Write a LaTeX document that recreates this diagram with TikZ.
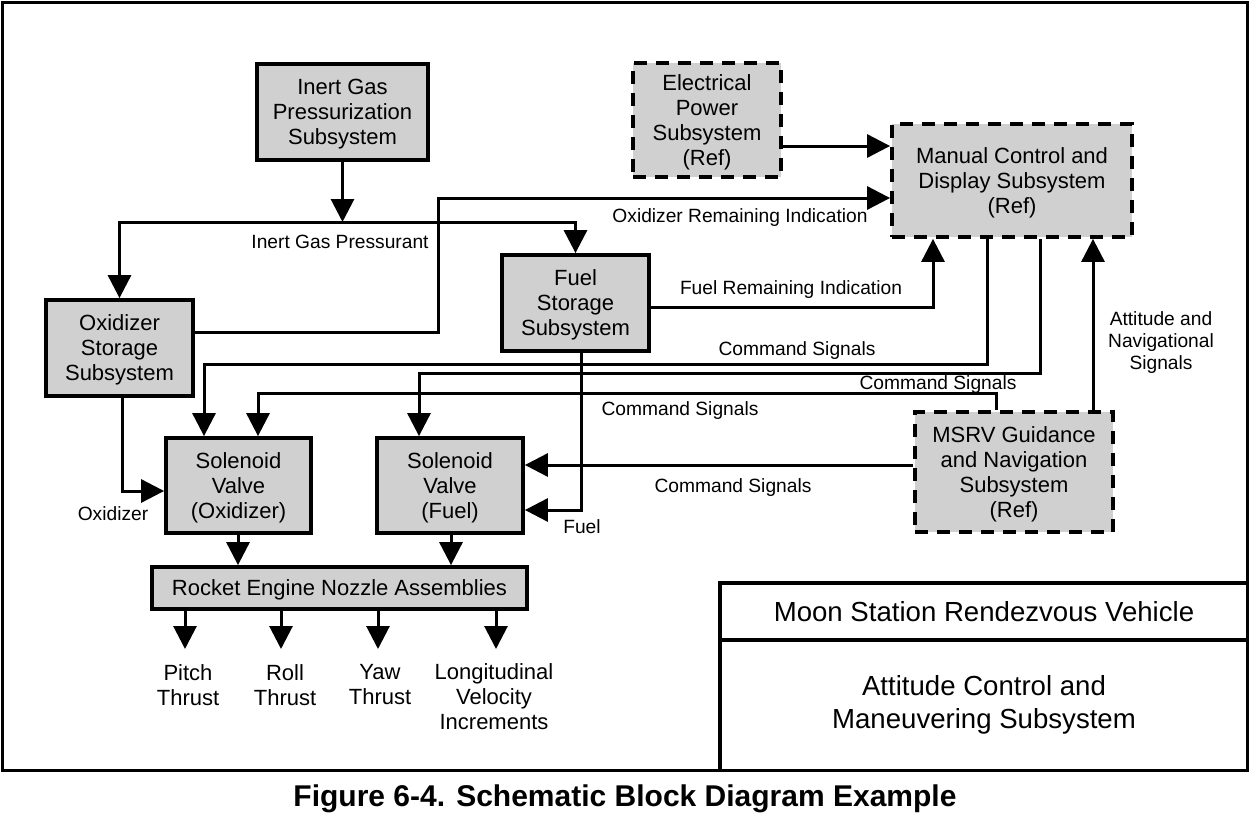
\documentclass[tikz,border=0pt]{standalone}
\usepackage{fontspec}
\setmainfont{Liberation Sans}
\usetikzlibrary{arrows.meta,calc}
\definecolor{boxgray}{RGB}{208,208,208}
\begin{document}
\begin{tikzpicture}[x=0.5pt,y=-0.5pt,
  blk/.style={draw, line width=1.9pt, fill=boxgray, align=center, inner sep=0pt, text depth=0pt, font=\fontsize{11}{12.5}\selectfont},
  refblk/.style={blk, dash pattern=on 6.5pt off 4.5pt},
  conn/.style={line width=1.5pt},
  arr/.style={conn, -{Triangle[length=11.5pt,width=11.5pt]}},
  lbl/.style={font=\fontsize{9.6}{11}\selectfont, align=center, inner sep=0pt},
  outl/.style={font=\fontsize{11}{12.5}\selectfont, align=center, inner sep=0pt},
  frame/.style={line width=1.75pt},
]
\useasboundingbox (0,0) rectangle (1250,814);
\draw[frame] (2.5,2.5) rectangle (1247.5,770.5);

% blocks
\node[blk, minimum width=85.5pt, minimum height=48pt] (inert) at (342.5,112) {Inert Gas\\Pressurization\\Subsystem};
\node[refblk, minimum width=74pt, minimum height=57pt] (elec) at (707,120) {Electrical\\Power\\Subsystem\\(Ref)};
\node[refblk, minimum width=120pt, minimum height=56.5pt] (manual) at (1012,180.5) {Manual Control and\\Display Subsystem\\(Ref)};
\node[blk, minimum width=73.5pt, minimum height=48pt] (oxst) at (119.5,348) {Oxidizer\\Storage\\Subsystem};
\node[blk, minimum width=73.5pt, minimum height=48pt] (fuelst) at (575.5,303) {Fuel\\Storage\\Subsystem};
\node[blk, minimum width=72.5pt, minimum height=47.5pt] (solox) at (238.5,485.5) {Solenoid\\Valve\\(Oxidizer)};
\node[blk, minimum width=73pt, minimum height=47.5pt] (solfuel) at (450,485.5) {Solenoid\\Valve\\(Fuel)};
\node[blk, minimum width=187.5pt, minimum height=21pt] (rocket) at (339.5,588) {Rocket Engine Nozzle Assemblies};
\node[refblk, minimum width=99pt, minimum height=60pt] (msrv) at (1014,472) {MSRV Guidance\\and Navigation\\Subsystem\\(Ref)};

% inert gas distribution
\coordinate (tj) at (342.5,222);
\draw[arr] (inert) -- (tj);
\draw[arr] (tj) -| (oxst);
\draw[arr] (tj) -| (fuelst);
\node[lbl] (lig) at (340,242) {Inert Gas Pressurant};

% indications
\draw[arr] (oxst.east |- 0,332) -- (438,332) |- (manual.west |- 0,198);
\node[lbl] (lori) at (740,218) {Oxidizer Remaining Indication};
\draw[arr] (fuelst.east |- 0,307) -| (manual.south -| 933,0);
\node[lbl] (lfri) at (791,290) {Fuel Remaining Indication};
\draw[arr] (elec.east |- 0,146) -- (manual.west |- 0,146);

% command signals
\draw[arr] (manual.south -| 987,0) |- (204,364) -- (solox.north -| 204,0);
\node[lbl] (lcs1) at (797,351) {Command Signals};
\draw[arr] (manual.south -| 1040,0) |- (419,373) -- (solfuel.north -| 419,0);
\node[lbl] (lcs2) at (938,385) {Command Signals};
\draw[arr] (msrv.north -| 996,0) |- (258,393) -- (solox.north -| 258,0);
\node[lbl] (lcs3) at (680,411) {Command Signals};
\draw[arr] (msrv.west |- 0,465) -- (solfuel.east |- 0,465);
\node[lbl] (lcs4) at (733,488) {Command Signals};
\draw[arr] (msrv.north -| 1093,0) -- (manual.south -| 1093,0);
\node[lbl] (lans) at (1161,343) {Attitude and\\Navigational\\Signals};

% propellant feeds
\draw[arr] (oxst.south -| 122,0) |- (solox.west |- 0,491);
\node[lbl] (lox) at (113,514) {Oxidizer};
\draw[arr] (fuelst.south -| 581,0) |- (solfuel.east |- 0,510);
\node[lbl] (lfu) at (582,527) {Fuel};

\draw[arr] (solox.south -| 238,0) -- (rocket.north -| 238,0);
\draw[arr] (solfuel.south -| 451,0) -- (rocket.north -| 451,0);

% outputs
\coordinate (tp) at (185,649);
\coordinate (tr) at (281,649);
\coordinate (ty) at (378,649);
\coordinate (tl) at (496,649);
\draw[arr] (rocket.south -| tp) -- (tp);
\draw[arr] (rocket.south -| tr) -- (tr);
\draw[arr] (rocket.south -| ty) -- (ty);
\draw[arr] (rocket.south -| tl) -- (tl);
\node[outl] (pitch) at (188,685) {Pitch\\Thrust};
\node[outl] (roll) at (285,685) {Roll\\Thrust};
\node[outl] (yaw) at (380,685) {Yaw\\Thrust};
\node[outl] (longi) at (494,697) {Longitudinal\\Velocity\\Increments};

% title block
\draw[frame] (720,770.5) -- (720,583) -- (1247.5,583);
\draw[frame] (720,640) -- (1247.5,640);
\node[font=\fontsize{13.8}{16}\selectfont, inner sep=0pt] (tb1) at (984,612) {Moon Station Rendezvous Vehicle};
\node[font=\fontsize{13.8}{16.2}\selectfont, align=center, inner sep=0pt] (tb2) at (984,705) {Attitude Control and\\Maneuvering Subsystem};

\node[font=\bfseries\fontsize{15}{18}\selectfont, inner sep=0pt] (title) at (625,799) {Figure 6-4. Schematic Block Diagram Example};
\end{tikzpicture}
\end{document}
